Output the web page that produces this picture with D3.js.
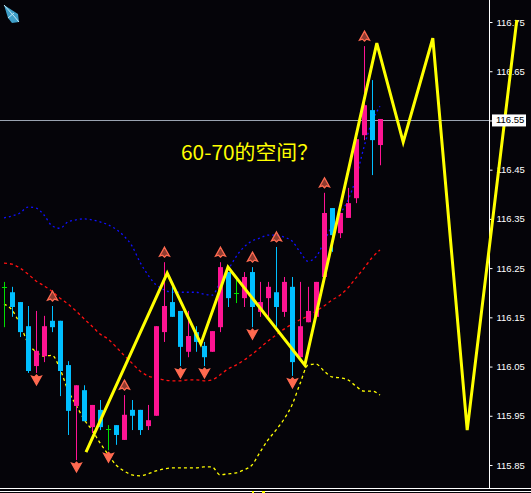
<!DOCTYPE html>
<html>
<head>
<meta charset="utf-8">
<script src="https://cdn.jsdelivr.net/npm/d3@7"></script>
<style>
body { margin: 0; background: #050409; }
svg { display: block; }
</style>
</head>
<body>
<div id="chart"></div>
<script>
var width = 531;
var height = 493;
var axisX = 489;

// candles, one per bar (bar index 0..47)
var openP  = [116.212,116.201,116.181,116.132,116.051,116.071,116.143,116.143,116.053,115.970,
              116.002,115.927,115.962,115.923,115.931,115.901,115.962,115.962,115.929,115.950,
              116.120,116.181,116.163,116.080,116.120,116.092,116.080,116.130,116.242,116.199,
              116.189,116.242,116.161,116.189,116.201,116.161,116.212,116.069,116.140,116.151,
              116.232,116.372,116.321,116.352,116.392,116.520,116.571,116.500];
var highP  = [116.222,116.212,116.181,116.173,116.163,116.153,116.173,116.143,116.061,116.012,
              116.012,115.972,115.982,115.931,115.931,115.992,115.982,115.962,115.972,116.132,
              116.262,116.212,116.163,116.163,116.132,116.100,116.122,116.262,116.242,116.226,
              116.242,116.252,116.222,116.222,116.293,116.232,116.232,116.222,116.212,116.222,
              116.403,116.372,116.362,116.413,116.524,116.701,116.632,116.553];
var lowP   = [116.130,116.151,116.110,116.037,116.037,116.059,116.120,115.990,115.911,115.860,
              115.939,115.915,115.921,115.880,115.891,115.901,115.921,115.911,115.921,115.950,
              116.100,116.151,116.051,116.069,116.080,116.051,116.080,116.120,116.171,116.179,
              116.171,116.130,116.151,116.151,116.130,116.151,116.031,116.069,116.140,116.151,
              116.232,116.283,116.311,116.352,116.382,116.510,116.439,116.459];
var closeP = [116.212,116.171,116.120,116.041,116.082,116.132,116.130,116.041,115.960,116.012,
              115.939,115.972,115.927,115.923,115.911,115.952,115.950,115.921,115.941,116.132,
              116.173,116.151,116.090,116.112,116.100,116.069,116.122,116.252,116.189,116.199,
              116.232,116.171,116.181,116.212,116.171,116.222,116.059,116.132,116.163,116.222,
              116.362,116.317,116.362,116.382,116.512,116.581,116.510,116.553];

// bollinger bands
var bbUpper = [116.352,116.356,116.362,116.374,116.372,116.358,116.336,116.331,116.344,116.348,
               116.350,116.348,116.344,116.338,116.329,116.315,116.295,116.262,116.236,116.216,
               116.206,116.201,116.201,116.201,116.201,116.197,116.195,116.220,116.246,116.273,
               116.293,116.305,116.311,116.317,116.317,116.313,116.305,116.283,116.264,116.273,
               116.303,116.336,116.360,116.388,116.433,116.496,116.547,116.579];
var bbMid   = [116.260,116.258,116.250,116.238,116.224,116.214,116.203,116.189,116.177,116.163,
               116.147,116.132,116.116,116.106,116.090,116.073,116.057,116.041,116.031,116.027,
               116.023,116.021,116.021,116.023,116.023,116.021,116.023,116.033,116.045,116.053,
               116.063,116.075,116.088,116.102,116.114,116.126,116.136,116.145,116.153,116.163,
               116.173,116.185,116.195,116.210,116.230,116.250,116.271,116.287];
var bbLower = [116.177,116.165,116.136,116.098,116.080,116.071,116.073,116.045,116.002,115.972,
               115.943,115.921,115.895,115.872,115.850,115.838,115.830,115.828,115.832,115.838,
               115.842,115.844,115.844,115.844,115.844,115.846,115.846,115.830,115.832,115.834,
               115.840,115.850,115.876,115.901,115.921,115.943,115.972,116.015,116.053,116.055,
               116.041,116.029,116.027,116.023,116.010,116.000,116.000,115.992];

// fractal bars
var upFractals = [6, 15, 20, 27, 31, 34, 40, 45];
var downFractals = [4, 9, 13, 22, 25, 31, 36];

// zigzag / projection (bar index, price)
var zigIdx   = [10.25, 20.4, 24.6, 28, 37.6, 46.6, 49.9, 53.6, 57.9, 64.1];
var zigPrice = [115.876, 116.240, 116.096, 116.252, 116.053, 116.707, 116.506, 116.717, 115.921, 116.754];

var yTicks = [116.75, 116.65, 116.55, 116.45, 116.35, 116.25, 116.15, 116.05, 115.95, 115.85];
var lastPrice = 116.55;
var note = "60-70的空间？";

var svg = d3.select("#chart")
	.append("svg")
	.attr("width", width)
	.attr("height", height)
	.style("background", "#050409");

var x = d3.scaleLinear().domain([0, 47]).range([4, 380]);
var y = d3.scaleLinear().domain([115.85, 116.75]).range([465, 22]);

// current price line
svg.append("line")
	.attr("x1", 0).attr("x2", axisX)
	.attr("y1", Math.round(y(lastPrice)) + 0.5).attr("y2", Math.round(y(lastPrice)) + 0.5)
	.attr("stroke", "#9aa3b0");

// price axis
var axis = d3.axisRight(y)
	.tickValues(yTicks)
	.tickFormat(d3.format(".2f"))
	.tickSize(3)
	.tickSizeOuter(0)
	.tickPadding(4);

var gAxis = svg.append("g")
	.attr("transform", "translate(" + (axisX + 0.5) + ",0)")
	.call(axis);

gAxis.select(".domain").remove();
gAxis.selectAll("line").attr("stroke", "#ffffff");
gAxis.selectAll("text")
	.attr("fill", "#ffffff")
	.style("font-family", "'Liberation Sans Narrow', 'Liberation Sans', sans-serif")
	.style("font-size", "9.5px");

svg.append("line")
	.attr("x1", axisX + 0.5).attr("x2", axisX + 0.5)
	.attr("y1", 0).attr("y2", 489)
	.attr("stroke", "#ffffff");

// bands
function band(vals, color, dash) {
	var line = d3.line()
		.x(function(d, i){ return x(i); })
		.y(function(d){ return y(d); })
		.curve(d3.curveMonotoneX);
	svg.append("path")
		.attr("d", line(vals))
		.attr("fill", "none")
		.attr("stroke", color)
		.attr("stroke-width", 1.3)
		.attr("stroke-dasharray", dash);
}
band(bbUpper, "#1010ff", "2,3");
band(bbMid, "#ff1010", "3,3");
band(bbLower, "#ffff00", "3,3");

// candles
var candles = svg.selectAll(".candle")
	.data(d3.range(openP.length))
	.enter()
	.append("g")
	.attr("class", "candle");

candles.append("rect")
	.attr("x", function(i){ return Math.round(x(i)); })
	.attr("width", 1)
	.attr("y", function(i){ return y(highP[i]); })
	.attr("height", function(i){ return Math.max(1, y(lowP[i]) - y(highP[i])); })
	.attr("fill", function(i){
		if (openP[i] === closeP[i]) return "#00e000";
		return closeP[i] > openP[i] ? "#ff1493" : "#00bfff";
	});

candles.append("rect")
	.attr("x", function(i){ return Math.round(x(i)) - 2; })
	.attr("width", 5)
	.attr("y", function(i){
		if (openP[i] === closeP[i]) return Math.round(y(openP[i]));
		return y(Math.max(openP[i], closeP[i]));
	})
	.attr("height", function(i){
		return Math.max(1, Math.abs(y(openP[i]) - y(closeP[i])));
	})
	.attr("fill", function(i){
		if (openP[i] === closeP[i]) return "#00e000";
		return closeP[i] > openP[i] ? "#ff1493" : "#00bfff";
	});

// fractal arrows
var upShape = "M0,-5 L5,4 L2,3 L0,5 L-2,3 L-5,4 Z";
var downShape = "M0,5 L5,-4 L2,-3 L0,-5 L-2,-3 L-5,-4 Z";

svg.selectAll(".fup")
	.data(upFractals)
	.enter()
	.append("path")
	.attr("class", "fup")
	.attr("d", upShape)
	.attr("transform", function(i){ return "translate(" + (Math.round(x(i)) + 0.5) + "," + (y(highP[i]) - 10) + ")"; })
	.attr("fill", "#ff6a50")
	.attr("fill-opacity", 0.55)
	.attr("stroke", "#ff6a50")
	.attr("stroke-width", 1.3);

svg.selectAll(".fdown")
	.data(downFractals)
	.enter()
	.append("path")
	.attr("class", "fdown")
	.attr("d", downShape)
	.attr("transform", function(i){ return "translate(" + (Math.round(x(i)) + 0.5) + "," + (y(lowP[i]) + 7) + ")"; })
	.attr("fill", "#ff6a50")
	.attr("stroke", "#ff6a50")
	.attr("stroke-width", 1.2);

// zigzag
var zig = d3.line()
	.x(function(d, i){ return x(zigIdx[i]); })
	.y(function(d){ return y(d); });

svg.append("path")
	.attr("d", zig(zigPrice))
	.attr("fill", "none")
	.attr("stroke", "#ffff00")
	.attr("stroke-width", 3)
	.attr("stroke-linejoin", "miter");

// last price label
svg.append("rect")
	.attr("x", 492).attr("y", y(lastPrice) - 6)
	.attr("width", 34).attr("height", 12)
	.attr("fill", "#ffffff");

svg.append("text")
	.attr("x", 496).attr("y", y(lastPrice))
	.attr("dy", "0.32em")
	.attr("fill", "#000000")
	.style("font-family", "'Liberation Sans Narrow', 'Liberation Sans', sans-serif")
	.style("font-size", "9.5px")
	.text(d3.format(".2f")(lastPrice));

// note
svg.append("text")
	.attr("x", 181)
	.attr("y", 160)
	.attr("textLength", 137)
	.attr("lengthAdjust", "spacingAndGlyphs")
	.attr("fill", "#ffff00")
	.style("font-family", "'Noto Sans CJK SC', sans-serif")
	.style("font-size", "20px")
	.text(note);

// bottom border
svg.append("line").attr("x1", 0).attr("x2", width).attr("y1", 488.5).attr("y2", 488.5).attr("stroke", "#ffffff");
svg.append("line").attr("x1", 0).attr("x2", width).attr("y1", 491.5).attr("y2", 491.5).attr("stroke", "#ffffff");
svg.append("rect").attr("x", 252).attr("y", 491).attr("width", 2).attr("height", 2).attr("fill", "#ffff00");
svg.append("rect").attr("x", 262).attr("y", 491).attr("width", 3).attr("height", 2).attr("fill", "#ffff00");

// window icon
var icon = svg.append("g").attr("transform", "translate(4,5)");
icon.append("path")
	.attr("d", "M0,0 L14,9 L15,17 L8,18 L4,13 Z")
	.attr("fill", "#3f9fc8");
icon.append("path")
	.attr("d", "M0,0 L9,10 L15,17 M4,13 L10,8")
	.attr("fill", "none")
	.attr("stroke", "#bfe6f5")
	.attr("stroke-width", 1);
</script>
</body>
</html>
